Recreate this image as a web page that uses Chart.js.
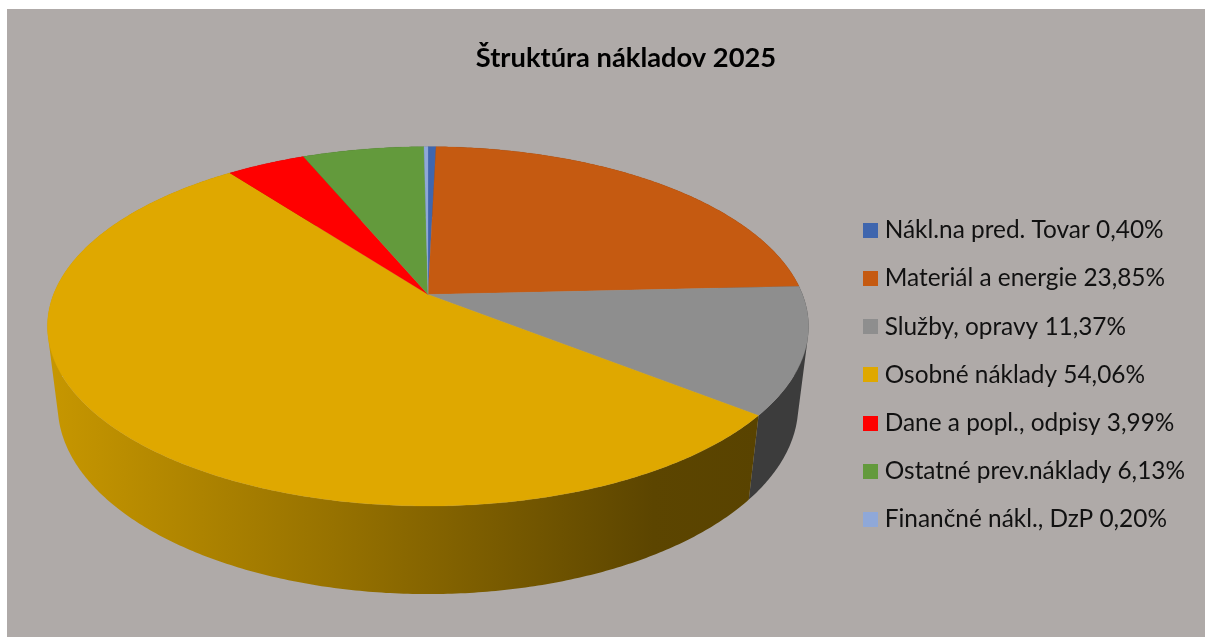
<!DOCTYPE html>
<html><head><meta charset="utf-8">
<style>html,body{margin:0;padding:0;background:#fff;overflow:hidden}
#panel{position:absolute;left:7px;top:9px;width:1198px;height:628px;background:#AFAAA8}
canvas{position:absolute;left:0;top:0}</style>
<script src="https://cdn.jsdelivr.net/npm/chart.js@4/dist/chart.umd.js"></script>
</head><body><div id="panel"></div><div style="position:absolute;left:0;top:0;width:1205px;height:637px"><canvas id="c" width="1205" height="637"></canvas></div>
<script>
const categories=["Nákl.na pred. Tovar","Materiál a energie","Služby, opravy","Osobné náklady","Dane a popl., odpisy","Ostatné prev.náklady","Finančné nákl., DzP"];
const values=[0.40,23.85,11.37,54.06,3.99,6.13,0.20];
const colors=["#3F66AE","#C55A11","#8E8E8E","#DFA800","#FF0000","#639A3C","#8FA8D8"];
const wallColors=["#2B4677","#7F3A0B","#3C3C3C",null,"#A00000","#3F6326","#5A6C8C"];
const titleText="Štruktúra nákladov 2025";
const labels=categories.map((c,i)=>c+" "+values[i].toFixed(2).replace(".",",")+"%");

const view={cx:428,cy:294.4,a:374.5,b:174,k:0.1778,d:80.5,e:0.027};
function topPt(ang){const u=Math.cos(ang),v=Math.sin(ang),w=1-view.k*v;
  return [view.cx+view.a*u/w,view.cy+view.b*v/w];}
function lowPt(ang){const u=Math.cos(ang),v=Math.sin(ang),w=1-view.k*v+view.e;
  return [view.cx+view.a*u/w,view.cy+(view.b*v+view.d)/w];}
function sweep(s,e){const n=Math.max(2,Math.ceil((e-s)/0.01));const r=[];for(let i=0;i<=n;i++)r.push(s+(e-s)*i/n);return r;}

class Arc3D extends Chart.ArcElement{
  static id="arc3d";
  draw(ctx){
    const {startAngle,endAngle}=this.getProps(["startAngle","endAngle"]);
    const col=this.options.backgroundColor;
    ctx.save();ctx.beginPath();ctx.moveTo(view.cx,view.cy);
    sweep(startAngle,endAngle).forEach(a=>{const p=topPt(a);ctx.lineTo(p[0],p[1]);});
    ctx.closePath();ctx.fillStyle=col;ctx.strokeStyle=col;ctx.lineWidth=0.25;ctx.lineJoin="round";ctx.fill();ctx.stroke();ctx.restore();
  }
}
class Pie3D extends Chart.PieController{
  static id="pie3d";
  static defaults={dataElementType:"arc3d"};
  draw(){
    const ctx=this.chart.ctx,els=this.getMeta().data;
    const g=ctx.createLinearGradient(47,0,760,0);
    g.addColorStop(0,"#C79700");g.addColorStop(.4,"#977200");g.addColorStop(.6,"#7D5E00");g.addColorStop(.85,"#5C4500");g.addColorStop(1,"#594300");
    const order=els.map((e,i)=>i).sort((p,q)=>(p===3)-(q===3)||(q===2)-(p===2));
    order.forEach(i=>{
      const {startAngle,endAngle}=els[i].getProps(["startAngle","endAngle"]);
      const angs=sweep(startAngle,endAngle);
      ctx.save();ctx.fillStyle=wallColors[i]||g;ctx.beginPath();
      for(let j=0;j<angs.length-1;j++){
        let q=[topPt(angs[j]),topPt(angs[j+1]),lowPt(angs[j+1]),lowPt(angs[j])];
        let area=0;q.forEach((p,n)=>{const r=q[(n+1)%4];area+=p[0]*r[1]-r[0]*p[1];});
        if(area<0)q=q.reverse();
        ctx.moveTo(q[0][0],q[0][1]);for(let n=1;n<4;n++)ctx.lineTo(q[n][0],q[n][1]);ctx.closePath();
      }
      ctx.fill("nonzero");ctx.restore();
    });
    super.draw();
  }
}
Chart.register(Arc3D,Pie3D);
function swatch(col){const s=document.createElement("canvas");s.width=15;s.height=15;const x=s.getContext("2d");x.fillStyle=col;x.fillRect(0,0,15,15);return s;}
const baseLabels=Chart.PieController.overrides.plugins.legend.labels.generateLabels;
new Chart(document.getElementById("c"),{
  type:"pie3d",
  data:{labels:labels,datasets:[{data:values,backgroundColor:colors,borderWidth:0,clip:false}]},
  options:{responsive:false,animation:false,
    layout:{padding:{left:57,right:10,top:0,bottom:0}},
    plugins:{
      tooltip:{enabled:false},
      title:{display:true,text:titleText,color:"#000",font:{family:"Lato",size:27.3,weight:"bold"},padding:{top:41.5,bottom:38.5}},
      legend:{position:"right",fullSize:false,labels:{usePointStyle:true,pointStyleWidth:5,boxHeight:15,padding:23.8,color:"#111",font:{family:"Lato",size:24.4},
        generateLabels:c=>baseLabels(c).map((l,i)=>Object.assign(l,{pointStyle:swatch(colors[i])}))}}
    }
  }
});
</script></body></html>
